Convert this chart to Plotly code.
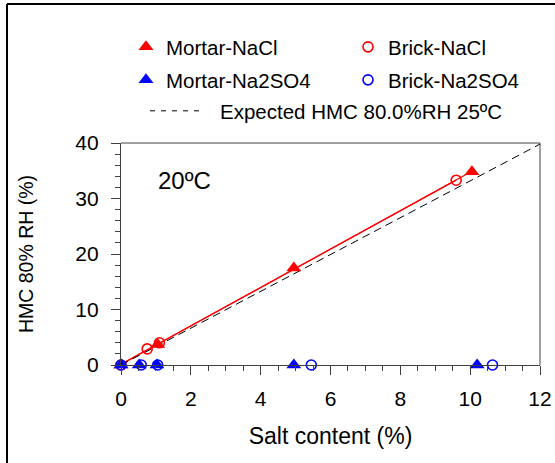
import numpy as np
import plotly.graph_objects as go

# ---- data ----
mortar_nacl_x = [0.0, 1.05, 4.95, 10.05]
mortar_nacl_y = [0.0, 3.7, 17.5, 34.8]
brick_nacl_x = [0.0, 0.75, 1.1, 9.6]
brick_nacl_y = [0.0, 2.9, 4.0, 33.3]
mortar_na2so4_x = [0.0, 0.52, 1.03, 4.95, 10.2]
mortar_na2so4_y = [0.0, 0.0, 0.0, 0.0, 0.0]
brick_na2so4_x = [0.0, 0.58, 1.05, 5.45, 10.64]
brick_na2so4_y = [0.0, 0.0, 0.0, 0.0, 0.0]
expected_x = [0.0, 12.3]
expected_y = [0.0, 40.8]

RED = "#FF0000"
BLUE = "#0000FF"
FONT = "Liberation Sans, Arial, sans-serif"

W, H = 555, 463
L, R, T, B = 121, 15, 143, 98
pw, ph = W - L - R, H - T - B


def px2paper_x(px):
    return (px - L) / pw


def px2paper_y(py):
    return (H - B - py) / ph


fig = go.Figure()


def fit_line(xs, ys):
    xs = np.asarray(xs)
    ys = np.asarray(ys)
    k, b = np.polyfit(xs, ys, 1)
    xx = np.array([xs.min(), xs.max()])
    return xx, k * xx + b


# trend lines (red)
for xs, ys in [(mortar_nacl_x, mortar_nacl_y), (brick_nacl_x, brick_nacl_y)]:
    lx, ly = fit_line(xs, ys)
    fig.add_trace(go.Scatter(x=lx, y=ly, mode="lines", line=dict(color=RED, width=1.2),
                             showlegend=False, hoverinfo="skip"))

# expected line (plot)
fig.add_trace(go.Scatter(x=expected_x, y=expected_y, mode="lines",
                         name="Expected HMC 80.0%RH 25ºC", showlegend=False,
                         line=dict(color="black", width=1, dash="8px,5px")))
# its legend entry
fig.add_trace(go.Scatter(x=[None], y=[None], mode="lines",
                         name="Expected HMC 80.0%RH 25ºC",
                         line=dict(color="black", width=1,
                                   dash="5px,6px,5px,6px,5px,6px,5px,6px,5px,40px"),
                         legend="legend5", hoverinfo="skip"))

fig.add_trace(go.Scatter(x=mortar_nacl_x, y=mortar_nacl_y, mode="markers", name="Mortar-NaCl",
                         marker=dict(symbol="triangle-up", size=13, color=RED, line=dict(width=0)),
                         cliponaxis=False, legend="legend"))
fig.add_trace(go.Scatter(x=brick_nacl_x, y=brick_nacl_y, mode="markers", name="Brick-NaCl",
                         marker=dict(symbol="circle-open", size=10, color=RED, line=dict(width=1.6, color=RED)),
                         cliponaxis=False, legend="legend2"))
fig.add_trace(go.Scatter(x=mortar_na2so4_x, y=mortar_na2so4_y, mode="markers", name="Mortar-Na2SO4",
                         marker=dict(symbol="triangle-up", size=13, color=BLUE, line=dict(width=0)),
                         cliponaxis=False, legend="legend3"))
fig.add_trace(go.Scatter(x=brick_na2so4_x, y=brick_na2so4_y, mode="markers", name="Brick-Na2SO4",
                         marker=dict(symbol="circle-open", size=10, color=BLUE, line=dict(width=1.6, color=BLUE)),
                         cliponaxis=False, legend="legend4"))

leg_common = dict(orientation="h", font=dict(family=FONT, size=20.5, color="black"),
                  bgcolor="rgba(0,0,0,0)", xanchor="left", yanchor="middle")

fig.update_layout(
    width=W, height=H,
    margin=dict(l=L, r=R, t=T, b=B, autoexpand=False),
    paper_bgcolor="white", plot_bgcolor="white",
    font=dict(family=FONT, color="black"),
    legend=dict(x=px2paper_x(126), y=px2paper_y(47), **leg_common),
    legend2=dict(x=px2paper_x(348), y=px2paper_y(47), **leg_common),
    legend3=dict(x=px2paper_x(126), y=px2paper_y(80), **leg_common),
    legend4=dict(x=px2paper_x(348), y=px2paper_y(80), **leg_common),
    legend5=dict(x=px2paper_x(145), y=px2paper_y(111), itemwidth=65, **leg_common),
    xaxis=dict(range=[0, 12], dtick=2, showgrid=False, zeroline=False,
               showline=True, linecolor="#404040", linewidth=1.3,
               ticks="outside", ticklen=9, tickwidth=1.3, tickcolor="#404040",
               minor=dict(dtick=0.5, ticks="outside", ticklen=5, tickwidth=1, tickcolor="#404040"),
               tickfont=dict(family=FONT, size=21), ticklabelstandoff=6,
               title=dict(text="Salt content (%)", font=dict(family=FONT, size=23), standoff=18),
               automargin=False),
    yaxis=dict(range=[0, 40], dtick=10, showgrid=False, zeroline=False,
               showline=True, linecolor="#404040", linewidth=1.3,
               ticks="outside", ticklen=9, tickwidth=1.3, tickcolor="#404040",
               minor=dict(dtick=2, ticks="outside", ticklen=5, tickwidth=1, tickcolor="#404040"),
               tickfont=dict(family=FONT, size=21), ticklabelstandoff=8,
               title=dict(text="HMC 80% RH (%)", font=dict(family=FONT, size=19.5), standoff=36),
               automargin=False),
    annotations=[dict(text="20ºC", x=px2paper_x(156), y=px2paper_y(180), xref="paper", yref="paper",
                      xanchor="left", yanchor="middle", showarrow=False,
                      font=dict(family=FONT, size=24, color="black"))],
    shapes=[
        # top and right frame (gray)
        dict(type="line", xref="x domain", yref="y domain", x0=0, x1=1, y0=1, y1=1,
             line=dict(color="#808080", width=1.5), layer="below"),
        dict(type="line", xref="x domain", yref="y domain", x0=1, x1=1, y0=0, y1=1,
             line=dict(color="#808080", width=1.5), layer="below"),
        # outer figure border (left and top)
        dict(type="line", xref="paper", yref="paper", x0=px2paper_x(7), x1=px2paper_x(7),
             y0=px2paper_y(4), y1=px2paper_y(470), line=dict(color="black", width=2)),
        dict(type="line", xref="paper", yref="paper", x0=px2paper_x(7), x1=px2paper_x(560),
             y0=px2paper_y(4), y1=px2paper_y(4), line=dict(color="black", width=2)),
    ],
)

fig.write_html("out.html")
